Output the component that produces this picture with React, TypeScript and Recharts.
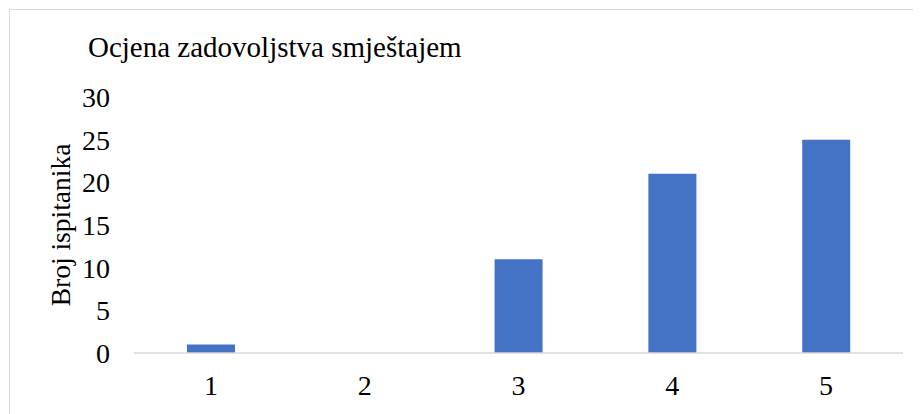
import { BarChart, Bar, XAxis, YAxis } from "recharts";

const grades = ["1", "2", "3", "4", "5"];
const respondents = [1, 0, 11, 21, 25];
const yTicks = [0, 5, 10, 15, 20, 25, 30];

const title = "Ocjena zadovoljstva smještajem";
const yTitle = "Broj ispitanika";

const FONT = "'Liberation Serif', 'Times New Roman', serif";

export default function App() {
  const data = grades.map((g, i) => ({ grade: g, count: respondents[i] }));

  return (
    <div
      style={{
        position: "relative",
        top: 1,
        left: 1,
        width: 930,
        height: 420,
        border: "1px solid #d9d9d9",
        background: "#fff",
        fontFamily: FONT,
      }}
    >
      <div
        style={{
          position: "absolute",
          left: 78,
          top: 23,
          fontSize: 29,
          lineHeight: "29px",
          color: "#000",
          whiteSpace: "nowrap",
        }}
      >
        {title}
      </div>
      <BarChart
        width={912}
        height={404}
        data={data}
        margin={{ top: 87, right: 19, bottom: 31, left: 0 }}
        barCategoryGap={0}
      >
        <XAxis
          dataKey="grade"
          height={30}
          tickLine={false}
          tickSize={0}
          tickMargin={22}
          axisLine={{ stroke: "#d9d9d9", strokeWidth: 1.5 }}
          tick={{ fill: "#000", fontSize: 28, fontFamily: FONT }}
        />
        <YAxis
          width={124}
          domain={[0, 30]}
          ticks={yTicks}
          axisLine={false}
          tickLine={false}
          tickSize={0}
          tickMargin={24}
          tick={{ fill: "#000", fontSize: 28, fontFamily: FONT }}
          label={(props: any) => {
            const vb = props.viewBox || {};
            const cx = 50;
            const cy = (vb.y ?? 87) + (vb.height ?? 256) / 2;
            return (
              <text
                x={cx}
                y={cy}
                transform={`rotate(-90, ${cx}, ${cy})`}
                textAnchor="middle"
                dominantBaseline="central"
                fontSize={27.5}
                fontFamily={FONT}
                fill="#000"
              >
                {yTitle}
              </text>
            );
          }}
        />
        <Bar dataKey="count" fill="#4472C4" barSize={48} isAnimationActive={false} />
      </BarChart>
    </div>
  );
}
